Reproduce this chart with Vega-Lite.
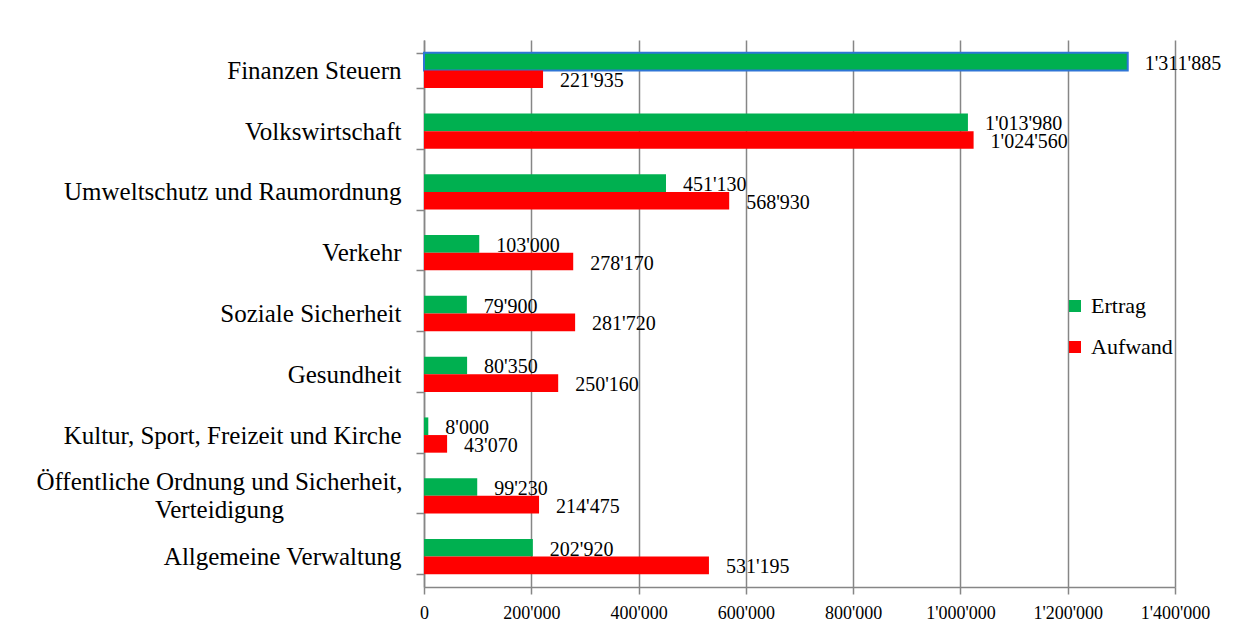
{
  "$schema": "https://vega.github.io/schema/vega-lite/v6.json",
  "autosize": {"type": "none"},
  "padding": {"left": 424, "top": 40, "right": 81, "bottom": 50},
  "width": 751,
  "height": 547,
  "background": "white",
  "config": {
    "font": "Liberation Serif",
    "view": {"stroke": null},
    "axis": {"labelFont": "Liberation Serif"},
    "legend": {"labelFont": "Liberation Serif"},
    "text": {"font": "Liberation Serif"},
    "locale": {"number": {"decimal": ".", "thousands": "'", "grouping": [3], "currency": ["", ""]}}
  },
  "data": {
    "values": [
      {"cat": "Finanzen Steuern", "series": "Ertrag", "value": 1311885},
      {"cat": "Finanzen Steuern", "series": "Aufwand", "value": 221935},
      {"cat": "Volkswirtschaft", "series": "Ertrag", "value": 1013980},
      {"cat": "Volkswirtschaft", "series": "Aufwand", "value": 1024560},
      {"cat": "Umweltschutz und Raumordnung", "series": "Ertrag", "value": 451130},
      {"cat": "Umweltschutz und Raumordnung", "series": "Aufwand", "value": 568930},
      {"cat": "Verkehr", "series": "Ertrag", "value": 103000},
      {"cat": "Verkehr", "series": "Aufwand", "value": 278170},
      {"cat": "Soziale Sicherheit", "series": "Ertrag", "value": 79900},
      {"cat": "Soziale Sicherheit", "series": "Aufwand", "value": 281720},
      {"cat": "Gesundheit", "series": "Ertrag", "value": 80350},
      {"cat": "Gesundheit", "series": "Aufwand", "value": 250160},
      {"cat": "Kultur, Sport, Freizeit und Kirche", "series": "Ertrag", "value": 8000},
      {"cat": "Kultur, Sport, Freizeit und Kirche", "series": "Aufwand", "value": 43070},
      {"cat": "Öffentliche Ordnung und Sicherheit, Verteidigung", "series": "Ertrag", "value": 99230},
      {"cat": "Öffentliche Ordnung und Sicherheit, Verteidigung", "series": "Aufwand", "value": 214475},
      {"cat": "Allgemeine Verwaltung", "series": "Ertrag", "value": 202920},
      {"cat": "Allgemeine Verwaltung", "series": "Aufwand", "value": 531195}
    ]
  },
  "encoding": {
    "y": {
      "field": "cat",
      "type": "nominal",
      "sort": null,
      "title": null,
      "scale": {"paddingInner": 0.42, "paddingOuter": 0.21},
      "axis": {
        "tickBand": "extent",
        "tickSize": 8,
        "tickColor": "#868686",
        "tickWidth": 1.5,
        "domainColor": "#868686",
        "domainWidth": 1.5,
        "labelFont": "Liberation Serif",
        "labelFontSize": 25,
        "labelColor": "#000000",
        "labelAlign": {"condition": {"test": "datum.value == 'Öffentliche Ordnung und Sicherheit, Verteidigung'", "value": "center"}, "value": "right"},
        "labelPadding": {"condition": {"test": "datum.value == 'Öffentliche Ordnung und Sicherheit, Verteidigung'", "value": 197}, "value": 15},
        "labelOffset": {"condition": {"test": "datum.value == 'Öffentliche Ordnung und Sicherheit, Verteidigung'", "value": -14}, "value": 0},
        "labelLimit": 420,
        "labelLineHeight": 28,
        "labelExpr": "datum.value == 'Öffentliche Ordnung und Sicherheit, Verteidigung' ? ['Öffentliche Ordnung und Sicherheit,', 'Verteidigung'] : datum.value"
      }
    },
    "yOffset": {"field": "series", "type": "nominal", "sort": ["Ertrag", "Aufwand"], "scale": {"paddingInner": 0}},
    "x": {
      "field": "value",
      "type": "quantitative",
      "title": null,
      "scale": {"domain": [0, 1400000], "nice": false},
      "axis": {
        "values": [0, 200000, 400000, 600000, 800000, 1000000, 1200000, 1400000],
        "format": ",d",
        "grid": true,
        "gridColor": "#868686",
        "gridWidth": 1.5,
        "tickSize": 7,
        "tickColor": "#868686",
        "tickWidth": 1.5,
        "domainColor": "#868686",
        "domainWidth": 1.5,
        "labelFont": "Liberation Serif",
        "labelFontSize": 18,
        "labelColor": "#000000",
        "labelPadding": 10,
        "labelFlush": false
      }
    }
  },
  "layer": [
    {
      "mark": {"type": "bar", "strokeWidth": 2},
      "encoding": {
        "color": {
          "field": "series",
          "type": "nominal",
          "sort": ["Ertrag", "Aufwand"],
          "scale": {"domain": ["Ertrag", "Aufwand"], "range": ["#00B050", "#FF0000"]},
          "legend": {
            "title": null,
            "orient": "none",
            "legendX": 640,
            "legendY": 255,
            "symbolType": "square",
            "symbolSize": 144,
            "symbolStrokeWidth": 0,
            "labelFont": "Liberation Serif",
            "labelFontSize": 22,
            "labelColor": "#000000",
            "labelOffset": 5,
            "rowPadding": 19,
            "padding": 0
          }
        },
        "stroke": {
          "condition": {"test": "datum.cat == 'Finanzen Steuern' && datum.series == 'Ertrag'", "value": "#2E75D6"},
          "value": null
        }
      }
    },
    {
      "mark": {"type": "text", "align": "left", "baseline": "middle", "dx": 17, "dy": 2, "font": "Liberation Serif", "fontSize": 20, "color": "#000000"},
      "encoding": {
        "text": {"field": "value", "type": "quantitative", "format": ",d"}
      }
    }
  ]
}
